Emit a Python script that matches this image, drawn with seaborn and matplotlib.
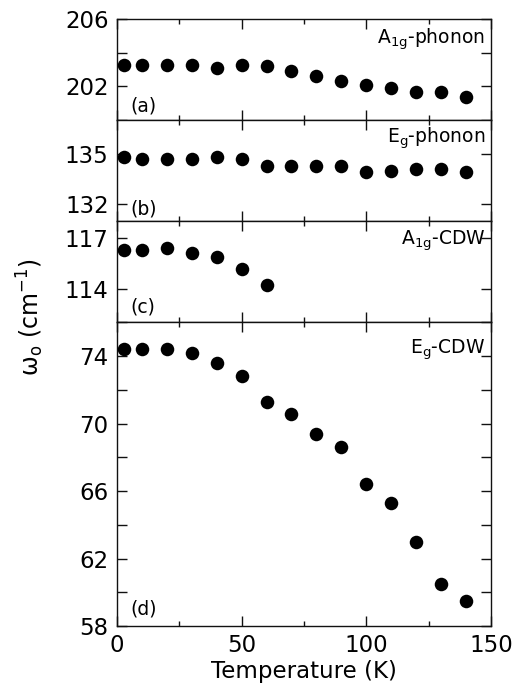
import matplotlib
matplotlib.use("Agg")
import matplotlib.pyplot as plt
import pandas as pd
import seaborn as sns

# Temperature points (K)
temperature = [3, 10, 20, 30, 40, 50, 60, 70, 80, 90, 100, 110, 120, 130, 140]

# Mode frequencies (cm^-1)
a1g_phonon = [203.3, 203.3, 203.3, 203.3, 203.1, 203.3, 203.2, 202.9, 202.6,
              202.3, 202.1, 201.9, 201.7, 201.7, 201.4]
eg_phonon = [134.8, 134.7, 134.7, 134.7, 134.8, 134.7, 134.3, 134.3, 134.3,
             134.3, 133.9, 134.0, 134.1, 134.1, 133.9]
a1g_cdw = [116.3, 116.3, 116.4, 116.1, 115.9, 115.2, 114.2]
eg_cdw = [74.4, 74.4, 74.4, 74.2, 73.6, 72.8, 71.3, 70.6, 69.4, 68.6,
          66.4, 65.3, 63.0, 60.5, 59.5]

mode_names = [r"A$_{\mathrm{1g}}$-phonon", r"E$_{\mathrm{g}}$-phonon",
              r"A$_{\mathrm{1g}}$-CDW", r"E$_{\mathrm{g}}$-CDW"]
panel_tags = ["(a)", "(b)", "(c)", "(d)"]

sns.set_style("ticks")
plt.rcParams["font.family"] = ["DejaVu Sans"]
plt.rcParams["mathtext.fontset"] = "dejavusans"
plt.rcParams["text.color"] = "black"
plt.rcParams["axes.labelcolor"] = "black"
plt.rcParams["xtick.color"] = "black"
plt.rcParams["ytick.color"] = "black"

fig = plt.figure(figsize=(5.2, 6.96), dpi=100)
gs = fig.add_gridspec(4, 1, height_ratios=[1, 1, 1, 3], hspace=0,
                      left=0.225, right=0.944, top=0.9727, bottom=0.1006)
axes = [fig.add_subplot(gs[i]) for i in range(4)]

series = [a1g_phonon, eg_phonon, a1g_cdw, eg_cdw]
ylims = [(200, 206), (131, 137), (112, 118), (58, 76)]
yticks = [[200, 202, 204, 206], [132, 135], [114, 117],
          [58, 60, 62, 64, 66, 68, 70, 72, 74, 76]]
ylabels_shown = [["", "202", "", "206"], ["132", "135"], ["114", "117"],
                 ["58", "", "62", "", "66", "", "70", "", "74", ""]]
name_y = [0.8, 0.82, 0.81, 0.91]
tag_y = [0.14, 0.12, 0.15, 0.056]

edge = "#111111"
for i, ax in enumerate(axes):
    vals = series[i]
    df = pd.DataFrame({"T": temperature[:len(vals)], "w": vals})
    sns.scatterplot(data=df, x="T", y="w", ax=ax, color="black", s=95,
                    linewidth=0, legend=False, zorder=3, clip_on=False)
    ax.set_xlim(0, 150)
    ax.set_ylim(*ylims[i])
    ax.set_yticks(yticks[i])
    ax.set_yticklabels(ylabels_shown[i])
    ax.set_xticks([0, 50, 100, 150])
    ax.set_xticks([25, 75, 125], minor=True)
    ax.tick_params(which="both", direction="in", top=True, right=True,
                   color=edge, width=1.0, labelsize=16.5, pad=6,
                   labelcolor="black")
    ax.tick_params(which="major", length=7)
    ax.tick_params(which="minor", length=3.8)
    for sp in ax.spines.values():
        sp.set_color(edge)
        sp.set_linewidth(1.0)
        sp.set_visible(True)
    ax.set_ylabel("")
    ax.set_xlabel("")
    if i < 3:
        ax.tick_params(labelbottom=False)
    ax.text(0.985, name_y[i], mode_names[i], transform=ax.transAxes,
            ha="right", va="center", fontsize=13.5)
    ax.text(0.035, tag_y[i], panel_tags[i], transform=ax.transAxes,
            ha="left", va="center", fontsize=13.5)

axes[-1].set_xlabel("Temperature (K)", fontsize=16.5, labelpad=2)
fig.text(0.058, 0.545, "ω$_{\\mathrm{o}}$ (cm$^{-1}$)", rotation=90,
         ha="center", va="center", fontsize=17)

fig.savefig("out.png", dpi=100)
